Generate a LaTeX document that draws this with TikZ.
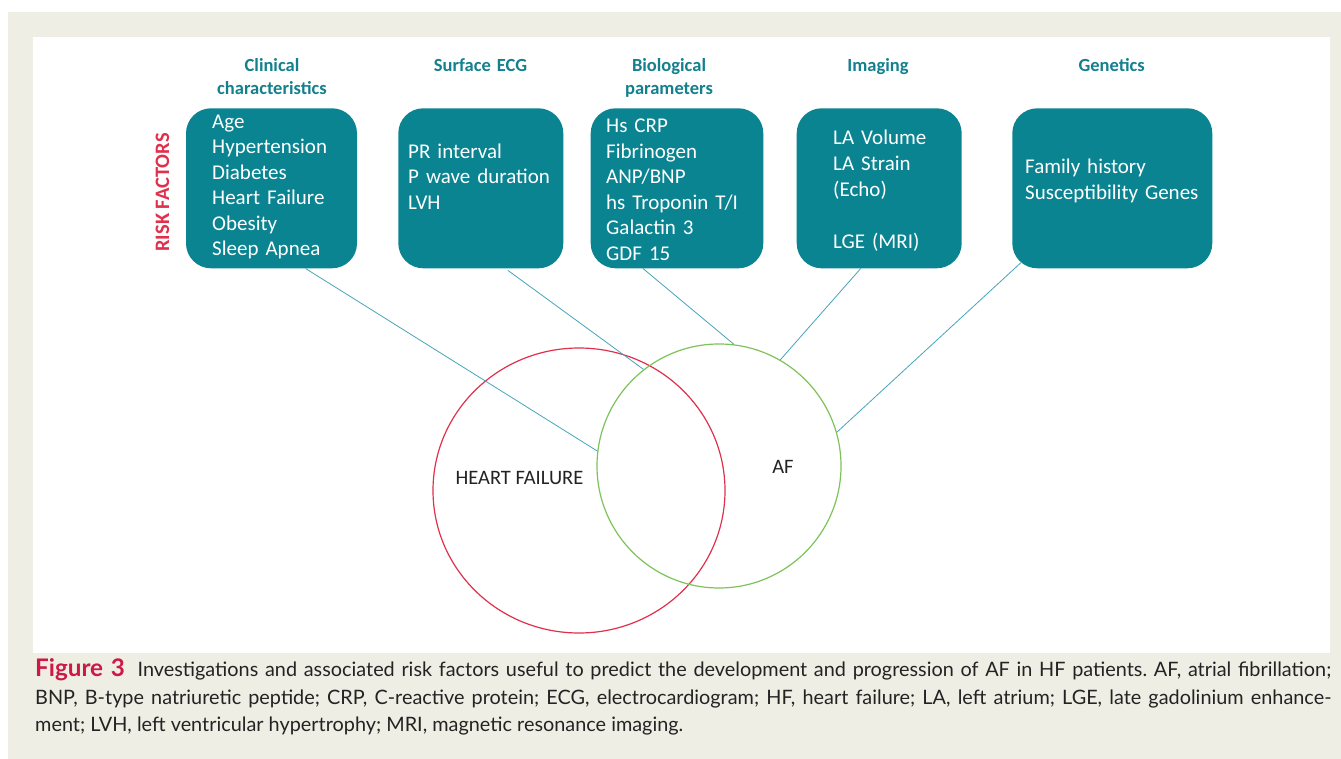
\documentclass[tikz,border=0pt]{standalone}
\usepackage{fontspec}
\setmainfont{Carlito}
\newfontfamily\capfont{Lato}
\usetikzlibrary{calc,shapes.geometric}
\definecolor{boxteal}{RGB}{11,132,146}
\definecolor{headteal}{RGB}{20,128,142}
\definecolor{linkteal}{RGB}{70,165,185}
\definecolor{hfred}{RGB}{224,49,76}
\definecolor{afgreen}{RGB}{125,195,90}
\definecolor{beigebg}{RGB}{239,238,228}
\definecolor{figred}{RGB}{204,25,72}
\definecolor{labgray}{RGB}{35,35,35}
\newlength\mycapw
\frenchspacing
\begin{document}
\settowidth\mycapw{\capfont\fontsize{10}{12}\selectfont ment; LVH, left ventricular hypertrophy; MRI, magnetic resonance imaging.}%
\pgfmathsetmacro\capsize{10*648/\mycapw}%
\pgfmathsetmacro\capbig{1.22*\capsize}%
\begin{tikzpicture}[x=1pt,y=-1pt,
  riskbox/.style={draw=none,fill=boxteal,rounded corners=25pt,minimum height=160pt,inner sep=0pt},
  boxtext/.style={text=white,anchor=base west,inner sep=0pt,text width=190pt,align=left,font=\fontsize{21}{25.5}\selectfont},
  headtext/.style={text=headteal,anchor=base,inner sep=0pt,text width=200pt,align=center,font=\bfseries\fontsize{18.5}{22.7}\selectfont},
  link/.style={draw=linkteal,line width=0.8pt},
  captline/.style={anchor=base west,inner sep=0pt,text=labgray}
]
\useasboundingbox (0,0) rectangle (1341,759);
\fill[white] (0,0) rectangle (1341,759);
\fill[beigebg] (8,12) rectangle (1341,759);
\fill[white] (33,37) rectangle (1330,653);

% boxes
\node[riskbox,minimum width=171pt] (b1) at (271.5,188.3) {};
\node[riskbox,minimum width=165pt] (b2) at (480.8,188.3) {};
\node[riskbox,minimum width=172.6pt] (b3) at (677,188.3) {};
\node[riskbox,minimum width=165pt] (b4) at (879.2,188.3) {};
\node[riskbox,minimum width=200pt] (b5) at (1112.3,188.3) {};

% headers
\node[headtext] (h1) at (272,71.7) {Clinical\\characteristics};
\node[headtext] (h2) at (480.5,71.7) {Surface ECG};
\node[headtext] (h3) at (669,71.7) {Biological\\parameters};
\node[headtext] (h4) at (878,71.7) {Imaging};
\node[headtext] (h5) at (1111.7,71.7) {Genetics};

% box texts
\node[boxtext] (t1) at (212,128.3) {Age\\Hypertension\\Diabetes\\Heart Failure\\Obesity\\Sleep Apnea};
\node[boxtext] (t2) at (408,158.3) {PR interval\\P wave duration\\LVH};
\node[boxtext] (t3) at (606,132.7) {Hs CRP\\Fibrinogen\\ANP/BNP\\hs Troponin T/I\\Galactin 3\\GDF 15};
\node[boxtext,font=\fontsize{21}{25.8}\selectfont] (t4) at (833,145) {LA Volume\\LA Strain\\(Echo)\\\mbox{}\\LGE (MRI)};
\node[boxtext,font=\fontsize{21}{26}\selectfont] (t5) at (1025,173.3) {Family history\\Susceptibility Genes};

% risk factors label
\node[rotate=90,inner sep=0pt,text=hfred,font=\bfseries\fontsize{20.5}{24}\selectfont] (rf) at (162.5,192.5) {RISK FACTORS};

% circles
\node[draw=hfred,line width=1.2pt,ellipse,minimum width=292pt,minimum height=285pt,inner sep=0pt] (hf) at (579,490.5) {};
\node[draw=afgreen,line width=1.2pt,circle,minimum size=244pt,inner sep=0pt] (af) at (719,466) {};
\node[inner sep=0pt,text=labgray,font=\fontsize{20.5}{24}\selectfont] (hfl) at (519.5,478) {HEART FAILURE};
\node[inner sep=0pt,text=labgray,font=\fontsize{20.5}{24}\selectfont] (afl) at (783,467) {AF};

% connectors
\draw[link] (b1.-67) -- (af.173);
\draw[link,shorten <=3pt] (b2.-73.6) -- (af.128);
\draw[link] (b3.-113.9) -- (af.83);
\draw[link] (b4.-103.7) -- (af.60.7);
\draw[link] ($(b5.south west)+(9,-6)$) -- (af.16);

% caption
\node[captline,font=\capfont\fontsize{\capsize}{27.5}\selectfont] (c1) at (35,676.7)
  {\makebox[1296pt][s]{{\color{figred}\bfseries\fontsize{\capbig}{27.5}\selectfont Figure 3}\hspace{6pt} Investigations and associated risk factors useful to predict the development and progression of AF in HF patients. AF, atrial fibrillation;}};
\node[captline,font=\capfont\fontsize{\capsize}{27.5}\selectfont] (c2) at (35,704.3)
  {\makebox[1296pt][s]{BNP, B-type natriuretic peptide; CRP, C-reactive protein; ECG, electrocardiogram; HF, heart failure; LA, left atrium; LGE, late gadolinium enhance-}};
\node[captline,font=\capfont\fontsize{\capsize}{27.5}\selectfont] (c3) at (35,731.7)
  {ment; LVH, left ventricular hypertrophy; MRI, magnetic resonance imaging.};
\end{tikzpicture}
\end{document}
